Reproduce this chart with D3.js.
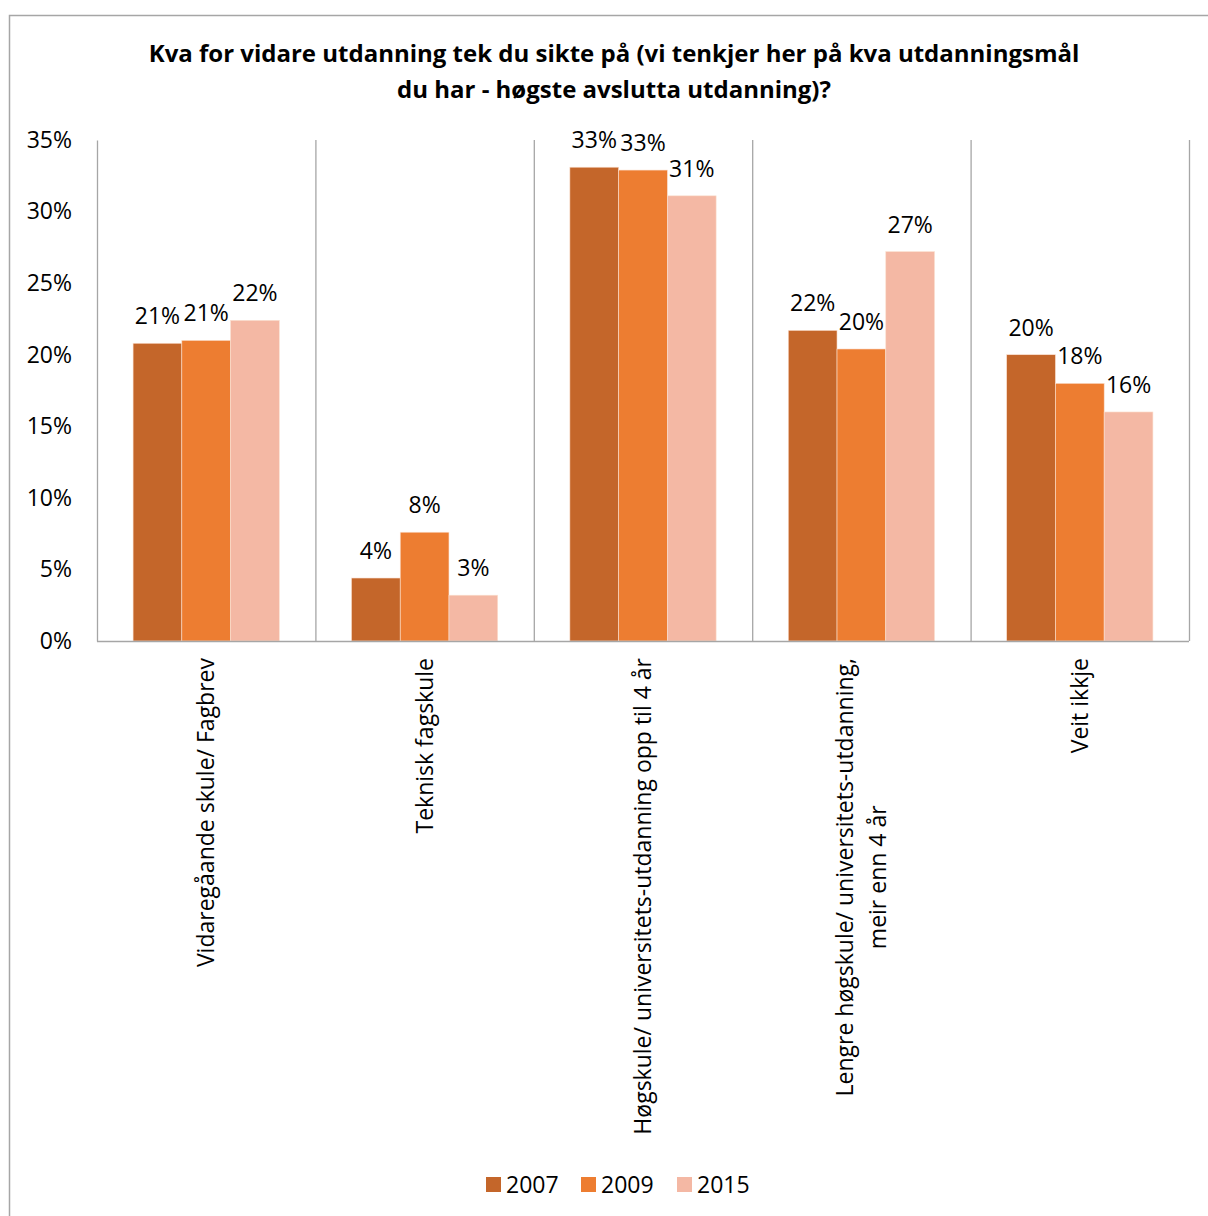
<!DOCTYPE html>
<html>
<head>
<meta charset="utf-8">
<script src="https://cdn.jsdelivr.net/npm/d3@7"></script>
<style>
  body { margin: 0; background: #fff; }
  text { font-family: "Open Sans", Lato, sans-serif; fill: #000; }
</style>
</head>
<body>
<div id="chart"></div>
<script>
// data (percent)
var categories = [
  ["Vidaregåande skule/ Fagbrev"],
  ["Teknisk fagskule"],
  ["Høgskule/ universitets-utdanning opp til 4 år"],
  ["Lengre høgskule/ universitets-utdanning,", "meir enn 4 år"],
  ["Veit ikkje"]
];
var years = ["2007", "2009", "2015"];
var v2007 = [20.8, 4.4, 33.1, 21.7, 20.0];
var v2009 = [21.0, 7.6, 32.9, 20.4, 18.0];
var v2015 = [22.4, 3.2, 31.1, 27.2, 16.0];
var yTicks = [0, 5, 10, 15, 20, 25, 30, 35];
var colors = ["#c4662a", "#ed7d31", "#f4b8a4"];

var series = [v2007, v2009, v2015];

var width = 1208, height = 1216;
var plot = {left: 97, right: 1189, top: 140, bottom: 641};
var fs = "23px";

var svg = d3.select("#chart").append("svg")
  .attr("width", width)
  .attr("height", height);

// outer frame
svg.append("rect")
  .attr("x", 9.5).attr("y", 15.5)
  .attr("width", 1220).attr("height", 1220)
  .attr("fill", "none")
  .attr("stroke", "#a6a6a6")
  .attr("stroke-width", 1.5);

// title
var title = svg.append("text")
  .attr("text-anchor", "middle")
  .style("font-size", "24px")
  .style("font-weight", "bold");
title.append("tspan").attr("x", 614).attr("y", 62)
  .text("Kva for vidare utdanning tek du sikte på (vi tenkjer her på kva utdanningsmål");
title.append("tspan").attr("x", 614).attr("y", 98)
  .text("du har - høgste avslutta utdanning)?");

var idx = d3.range(categories.length);

var x = d3.scaleBand()
  .domain(idx)
  .range([plot.left, plot.right]);

var xInner = d3.scaleBand()
  .domain(years)
  .range([0, x.bandwidth()])
  .paddingOuter(0.74);

var y = d3.scaleLinear()
  .domain([0, 35])
  .range([plot.bottom, plot.top]);

// vertical separators between categories
svg.selectAll(".sep")
  .data(idx)
  .enter()
  .append("line")
    .attr("x1", function(d) { return x(d) + x.bandwidth() + 0.5; })
    .attr("x2", function(d) { return x(d) + x.bandwidth() + 0.5; })
    .attr("y1", plot.top)
    .attr("y2", plot.bottom)
    .attr("stroke", "#a6a6a6")
    .attr("stroke-width", 1.3);

// bars
var groups = svg.selectAll(".grp")
  .data(idx)
  .enter()
  .append("g")
    .attr("transform", function(d) { return "translate(" + x(d) + ",0)"; });

function rows(i) {
  return years.map(function(yr, k) { return {year: yr, k: k, value: series[k][i]}; });
}

groups.selectAll("rect")
  .data(rows)
  .enter()
  .append("rect")
    .attr("x", function(d) { return xInner(d.year); })
    .attr("width", xInner.bandwidth())
    .attr("y", function(d) { return y(d.value); })
    .attr("height", function(d) { return y(0) - y(d.value); })
    .attr("fill", function(d) { return colors[d.k]; })
    .attr("stroke", "#fbe0d0")
    .attr("stroke-width", 0.6);

groups.selectAll(".lbl")
  .data(rows)
  .enter()
  .append("text")
    .attr("x", function(d) { return xInner(d.year) + xInner.bandwidth() / 2; })
    .attr("y", function(d) { return y(d.value) - 19; })
    .attr("text-anchor", "middle")
    .style("font-size", fs)
    .text(function(d) { return Math.round(d.value) + "%"; });

// y axis
var yAxis = d3.axisLeft(y)
  .tickValues(yTicks)
  .tickSize(0)
  .tickPadding(25)
  .tickFormat(function(d) { return d + "%"; });

var gy = svg.append("g")
  .attr("transform", "translate(" + plot.left + ",0)")
  .call(yAxis);
gy.select(".domain").attr("stroke", "#a6a6a6").attr("stroke-width", 1.3);
gy.selectAll("text").style("font-size", fs).attr("fill", "#000");

// x axis line
svg.append("line")
  .attr("x1", plot.left).attr("x2", plot.right)
  .attr("y1", plot.bottom + 0.5).attr("y2", plot.bottom + 0.5)
  .attr("stroke", "#a6a6a6")
  .attr("stroke-width", 1.3);

// category labels, rotated
var lineH = 33;
idx.forEach(function(i) {
  var lines = categories[i];
  var cx = x(i) + x.bandwidth() / 2;
  var t = svg.append("text")
    .attr("text-anchor", "middle")
    .style("font-size", fs);
  var tsp = t.selectAll("tspan")
    .data(lines)
    .enter()
    .append("tspan")
      .text(function(d) { return d; });
  var maxW = d3.max(tsp.nodes(), function(n) { return n.getComputedTextLength(); });
  var offset0 = -(lines.length - 1) * lineH / 2;
  tsp.attr("x", 0)
     .attr("y", function(d, j) { return offset0 + j * lineH + 8; });
  t.attr("transform", "translate(" + cx + "," + (plot.bottom + 17 + maxW / 2) + ") rotate(-90)");
});

// legend
var legX = [486, 581, 677];
var leg = svg.selectAll(".leg")
  .data(years)
  .enter()
  .append("g")
    .attr("transform", function(d, k) { return "translate(" + legX[k] + ",1177)"; });
leg.append("rect")
  .attr("width", 15).attr("height", 15)
  .attr("fill", function(d, k) { return colors[k]; });
leg.append("text")
  .attr("x", 20).attr("y", 16)
  .style("font-size", fs)
  .text(function(d) { return d; });
</script>
</body>
</html>
